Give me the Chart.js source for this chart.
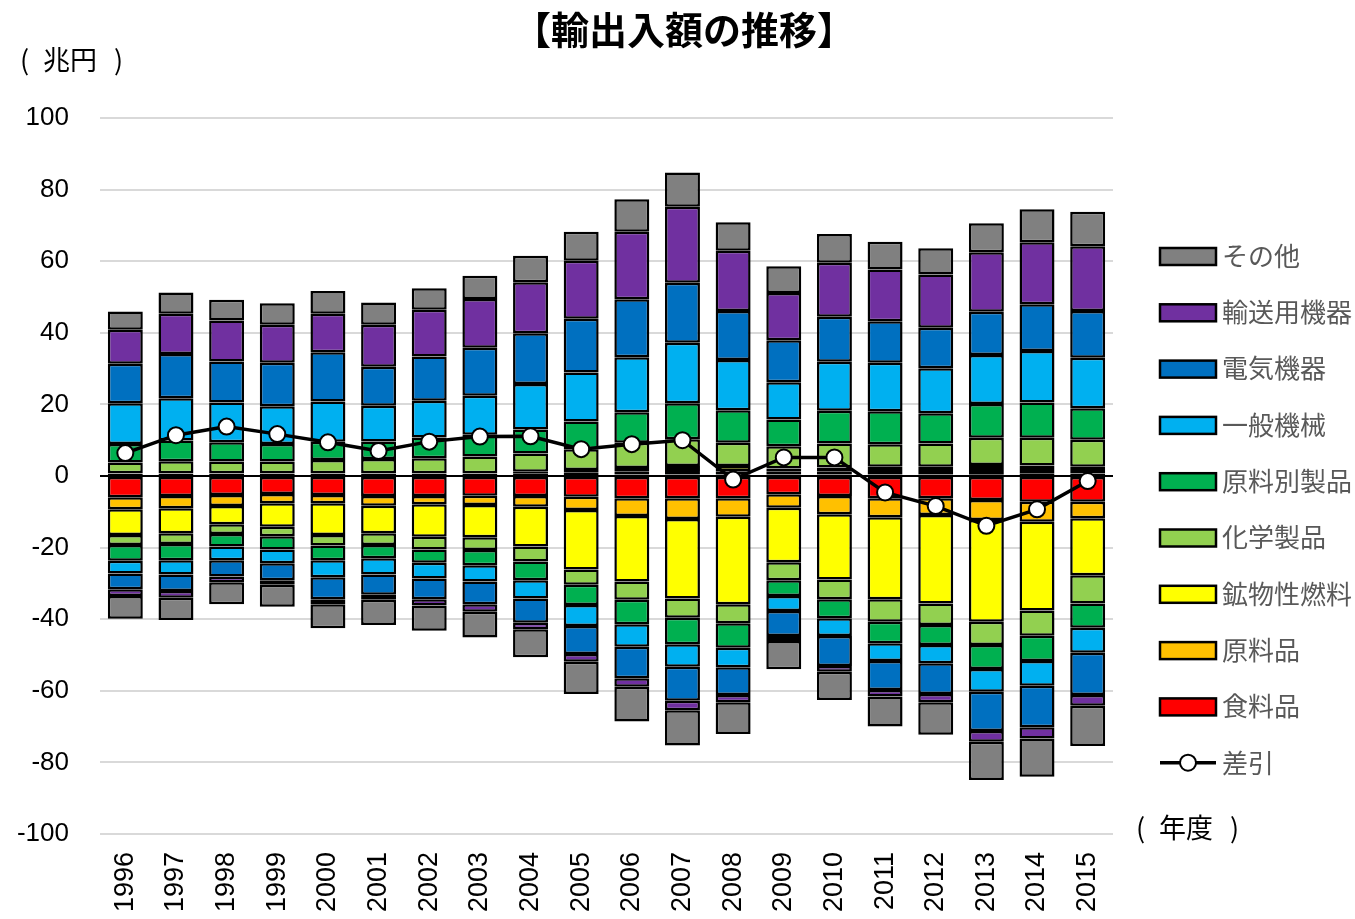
<!DOCTYPE html>
<html lang="ja">
<head>
<meta charset="utf-8">
<title>輸出入額の推移</title>
<script src="https://cdn.jsdelivr.net/npm/chart.js@4.4.1/dist/chart.umd.min.js"></script>
<style>
    html, body { margin: 0; padding: 0; background: #fff; }
</style>
</head>
<body>
<canvas id="tradeChart" width="1355" height="919"></canvas>
<script>
// 年度
const years = ['1996', '1997', '1998', '1999', '2000', '2001', '2002', '2003', '2004', '2005',
    '2006', '2007', '2008', '2009', '2010', '2011', '2012', '2013', '2014', '2015'];

// 品目 (積み上げ順: 0 に近い方から)
const categories = ['食料品', '原料品', '鉱物性燃料', '化学製品', '原料別製品', '一般機械', '電気機器', '輸送用機器', 'その他'];
const colors = ['#ff0000', '#ffc000', '#ffff00', '#92d050', '#00b050', '#00b0f0', '#0070c0', '#7030a0', '#808080'];

// 輸出 (兆円)
const exFood  = [0.2, 0.2, 0.2, 0.2, 0.2, 0.2, 0.2, 0.3, 0.3, 0.3, 0.4, 0.4, 0.4, 0.4, 0.4, 0.4, 0.4, 0.5, 0.6, 0.7];
const exRaw   = [0.4, 0.4, 0.4, 0.4, 0.4, 0.4, 0.4, 0.3, 0.5, 0.6, 0.9, 1.0, 0.9, 0.8, 0.9, 1.0, 1.0, 1.2, 1.1, 1.0];
const exFuel  = [0.2, 0.2, 0.2, 0.2, 0.2, 0.2, 0.2, 0.2, 0.4, 0.8, 0.9, 1.4, 1.5, 0.9, 1.1, 1.2, 1.2, 1.4, 1.2, 0.9];
const exChem  = [2.95, 3.35, 3.25, 3.25, 3.7, 3.95, 4.15, 4.65, 5.1, 5.8, 7.1, 7.5, 6.5, 6.2, 6.7, 6.3, 6.5, 7.6, 7.8, 7.5];
const exManuf = [5.2, 5.8, 5.4, 4.9, 5.1, 4.9, 5.8, 6.1, 6.7, 7.7, 8.5, 10.0, 9.1, 7.5, 9.1, 9.2, 8.4, 9.4, 9.8, 8.8];
const exMach  = [11.4, 11.8, 11.1, 10.5, 11.2, 10.0, 10.3, 10.9, 12.7, 13.7, 15.4, 16.9, 14.0, 10.4, 13.7, 13.5, 12.6, 13.7, 14.4, 14.1];
const exElec  = [11.0, 12.3, 11.4, 12.2, 13.8, 10.9, 12.3, 13.4, 14.2, 15.0, 16.2, 16.8, 13.7, 11.7, 12.6, 11.6, 11.3, 12.1, 13.1, 13.1];
const exTrans = [9.5, 11.3, 11.5, 10.6, 10.7, 11.7, 13.1, 13.6, 14.2, 16.2, 18.8, 21.2, 16.8, 13.2, 15.1, 14.5, 14.9, 16.6, 17.3, 18.1];
const exOther = [5.1, 5.9, 5.8, 6.0, 6.4, 6.2, 6.0, 6.5, 7.4, 8.1, 9.1, 9.6, 8.0, 7.5, 8.0, 7.7, 7.3, 8.1, 9.2, 9.6];

// 輸入 (兆円, マイナス表示)
const imFood  = [-5.95, -5.6, -5.3, -5.0, -5.3, -5.6, -5.6, -5.5, -5.6, -5.8, -6.2, -6.2, -6.2, -5.1, -5.6, -6.2, -6.2, -6.7, -7.2, -7.2];
const imRaw   = [-3.35, -3.4, -3.1, -2.6, -2.3, -2.7, -2.3, -2.6, -3.0, -3.7, -5.0, -5.8, -5.2, -3.8, -5.1, -5.3, -4.7, -5.6, -5.6, -4.6];
const imFuel  = [-7.2, -7.0, -5.1, -6.6, -8.9, -7.7, -9.1, -9.0, -11.1, -16.6, -18.3, -22.2, -24.4, -15.2, -18.2, -22.9, -24.7, -28.4, -24.8, -15.9];
const imChem  = [-2.8, -3.0, -2.7, -2.6, -2.9, -3.3, -3.5, -3.6, -4.2, -4.3, -5.1, -5.4, -5.3, -5.0, -5.5, -6.3, -6.0, -6.5, -7.0, -7.9];
const imManuf = [-4.4, -4.5, -3.5, -3.7, -4.1, -3.7, -3.7, -4.2, -5.2, -5.6, -6.8, -7.4, -6.9, -4.4, -5.3, -6.0, -5.6, -6.7, -7.1, -6.8];
const imMach  = [-3.5, -4.0, -3.8, -3.9, -4.8, -4.5, -4.4, -4.6, -5.1, -5.9, -6.3, -6.3, -5.4, -4.2, -5.0, -5.0, -5.1, -6.4, -6.9, -7.0];
const imElec  = [-4.4, -4.6, -4.6, -4.7, -6.1, -5.7, -5.8, -6.3, -6.8, -7.8, -8.8, -9.5, -7.8, -7.0, -8.4, -8.1, -8.6, -10.9, -11.6, -11.8];
const imTrans = [-1.9, -1.9, -1.6, -1.3, -1.4, -1.4, -1.8, -2.1, -1.8, -2.2, -2.4, -2.6, -2.0, -1.4, -1.6, -1.8, -2.3, -3.0, -3.1, -3.0];
const imOther = [-6.4, -6.2, -6.1, -6.1, -6.7, -7.0, -7.0, -7.2, -7.8, -9.0, -9.7, -9.9, -8.9, -7.9, -7.9, -8.4, -9.1, -10.7, -10.7, -11.2];

// 差引
const balance = [6.4, 11.4, 13.8, 11.7, 9.4, 7.0, 9.6, 11.0, 11.1, 7.5, 8.9, 10.0, -1.0, 5.2, 5.2, -4.6, -8.4, -13.9, -9.3, -1.4];

const yTicks = [-100, -80, -60, -40, -20, 0, 20, 40, 60, 80, 100];

const exportSeries = [exFood, exRaw, exFuel, exChem, exManuf, exMach, exElec, exTrans, exOther];
const importSeries = [imFood, imRaw, imFuel, imChem, imManuf, imMach, imElec, imTrans, imOther];

const FONT = '"Liberation Sans", "Noto Sans CJK JP", sans-serif';
const JP_FONT = '"Noto Sans CJK JP", sans-serif';

function barSet(label, data, color) {
    return {
        type: 'bar',
        label: label,
        data: data,
        backgroundColor: color,
        borderColor: '#000',
        borderWidth: 2.5,
        borderSkipped: false,
        stack: 'trade',
        order: 1,
        barPercentage: 0.69,
        categoryPercentage: 1,
    };
}

const datasets = [];
categories.forEach((name, i) => datasets.push(barSet(name, exportSeries[i], colors[i])));
categories.forEach((name, i) => datasets.push(barSet(name, importSeries[i], colors[i])));
datasets.push({
    type: 'line',
    label: '差引',
    data: balance,
    borderColor: '#000',
    borderWidth: 3.5,
    pointRadius: 8,
    pointBackgroundColor: '#fff',
    pointBorderColor: '#000',
    pointBorderWidth: 2,
    stack: 'balance',
    order: 0,
    tension: 0,
});

// 括弧付きの単位ラベル
function unitLabel(ctx, text, x, y) {
    ctx.fillText('(', x, y);
    ctx.fillText(text, x + 23, y);
    ctx.fillText(')', x + 94, y);
}

// 見出し・単位・凡例
const overlay = {
    id: 'overlay',
    afterDraw(chart) {
        const ctx = chart.ctx;
        ctx.save();
        ctx.fillStyle = '#000';
        ctx.textBaseline = 'middle';
        ctx.textAlign = 'center';
        ctx.font = 'bold 38px ' + JP_FONT;
        ctx.fillText('【輸出入額の推移】', 684, 30);

        ctx.textAlign = 'left';
        ctx.font = '27px ' + JP_FONT;
        unitLabel(ctx, '兆円', 20, 60);
        unitLabel(ctx, '年度', 1136, 828);

        // 凡例
        const top = 256;
        const step = 56.3;
        ctx.font = '26px ' + JP_FONT;
        for (let k = 0; k < categories.length; k++) {
            const i = categories.length - 1 - k;
            const cy = top + k * step;
            ctx.fillStyle = colors[i];
            ctx.fillRect(1160, cy - 8, 56, 17);
            ctx.strokeStyle = '#000';
            ctx.lineWidth = 2.5;
            ctx.strokeRect(1160, cy - 8, 56, 17);
            ctx.fillStyle = '#595959';
            ctx.fillText(categories[i], 1222, cy);
        }
        const ly = top + categories.length * step;
        ctx.strokeStyle = '#000';
        ctx.lineWidth = 3.5;
        ctx.beginPath();
        ctx.moveTo(1160, ly);
        ctx.lineTo(1216, ly);
        ctx.stroke();
        ctx.beginPath();
        ctx.arc(1188, ly, 8, 0, Math.PI * 2);
        ctx.fillStyle = '#fff';
        ctx.fill();
        ctx.lineWidth = 2;
        ctx.stroke();
        ctx.fillStyle = '#595959';
        ctx.fillText('差引', 1222, ly);
        ctx.restore();
    },
};

new Chart(document.getElementById('tradeChart'), {
    data: {
        labels: years,
        datasets: datasets,
    },
    options: {
        responsive: false,
        animation: false,
        layout: {
            padding: { top: 118, right: 242, bottom: 0, left: 0 },
        },
        plugins: {
            legend: { display: false },
            title: { display: false },
            tooltip: { enabled: false },
        },
        scales: {
            x: {
                stacked: true,
                grid: { display: false, drawTicks: false },
                border: { display: false },
                ticks: {
                    color: '#000',
                    font: { family: FONT, size: 27 },
                    minRotation: 90,
                    maxRotation: 90,
                    autoSkip: false,
                    padding: 18,
                },
                afterFit(scale) {
                    scale.height = 85;
                },
            },
            y: {
                stacked: true,
                min: -100,
                max: 100,
                afterBuildTicks(scale) {
                    scale.ticks = yTicks.map((v) => ({ value: v }));
                },
                grid: {
                    drawTicks: false,
                    lineWidth: 2,
                    color: (c) => (c.tick && c.tick.value === 0 ? '#000' : '#d9d9d9'),
                },
                border: { display: false },
                ticks: {
                    color: '#000',
                    font: { family: FONT, size: 26 },
                    padding: 31,
                },
                afterFit(scale) {
                    scale.width = 100;
                },
            },
        },
    },
    plugins: [overlay],
});
</script>
</body>
</html>
